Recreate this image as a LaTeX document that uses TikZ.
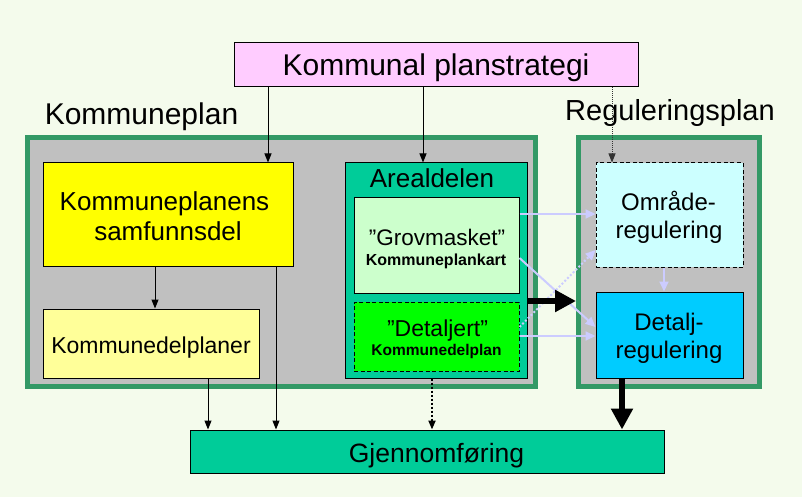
\documentclass[tikz,border=0pt]{standalone}
\usepackage{fontspec}
\setmainfont{Liberation Sans}
\usetikzlibrary{arrows.meta}
\definecolor{bg}{RGB}{244,251,236}
\definecolor{kgreen}{RGB}{51,153,102}
\definecolor{kgray}{RGB}{192,192,192}
\definecolor{pink}{RGB}{255,204,255}
\definecolor{yel}{RGB}{255,255,0}
\definecolor{lyel}{RGB}{255,255,153}
\definecolor{teal}{RGB}{0,204,153}
\definecolor{pgreen}{RGB}{204,255,204}
\definecolor{bgreen}{RGB}{0,255,0}
\definecolor{pcyan}{RGB}{204,255,255}
\definecolor{scyan}{RGB}{0,204,255}
\definecolor{lav}{RGB}{204,204,255}
\newcommand\fsz[1]{\fontsize{#1}{#1}\selectfont}
\begin{document}
\begin{tikzpicture}[x=1pt,y=-1pt,
  box/.style={draw=black,line width=1pt,inner sep=0pt},
  dbox/.style={box,dash pattern=on 4pt off 2.5pt},
  cont/.style={draw=kgreen,line width=5pt,fill=kgray,inner sep=0pt},
  txt/.style={anchor=base,inner sep=0pt},
  thin/.style={line width=1pt,-{Triangle[length=9pt,width=7pt]}},
  lavarr/.style={draw=lav,line width=2pt,-{Triangle[length=10pt,width=9pt]}},
  heavy/.style={line width=5.5pt,-{Triangle[length=21pt,width=21pt]}}]
\fill[bg] (0,0) rectangle (802,497);
\useasboundingbox (0,0) rectangle (802,497);

% containers
\node[cont,minimum width=508pt,minimum height=249pt] (kp) at (281.5,262) {};
\node[cont,minimum width=181pt,minimum height=249pt] (rp) at (669,262) {};

% boxes
\node[box,fill=pink,minimum width=404pt,minimum height=44pt] (strat) at (436,65) {};
\node[box,fill=yel,minimum width=250pt,minimum height=103pt] (samf) at (168,214.5) {};
\node[box,fill=lyel,minimum width=216pt,minimum height=69pt] (kdp) at (151,343.5) {};
\node[box,fill=teal,minimum width=182pt,minimum height=215pt] (areal) at (436,270.5) {};
\node[box,fill=pgreen,minimum width=165pt,minimum height=96pt] (grov) at (436.5,245) {};
\node[dbox,fill=bgreen,minimum width=165pt,minimum height=69pt] (detj) at (436.5,336.5) {};
\node[dbox,fill=pcyan,minimum width=147pt,minimum height=104pt] (omr) at (669.5,215) {};
\node[box,fill=scyan,minimum width=147pt,minimum height=86pt] (detr) at (669.5,335) {};
\node[box,fill=teal,minimum width=474pt,minimum height=43pt] (gjen) at (427,451.5) {};

% texts
\node[txt,font=\fsz{30}] (t-strat) at (436,76) {Kommunal planstrategi};
\node[txt,font=\fsz{30}] (t-kp) at (141.5,125) {Kommuneplan};
\node[txt,font=\fsz{29}] (t-rp) at (670,121) {Reguleringsplan};
\node[txt,font=\fsz{26}] (t-areal) at (432,187) {Arealdelen};
\node[txt,font=\fsz{26}] (t-samf1) at (164.5,210) {Kommuneplanens};
\node[txt,font=\fsz{26}] (t-samf2) at (168,240) {samfunnsdel};
\node[txt,font=\fsz{23}] (t-kdp) at (151,353) {Kommunedelplaner};
\node[txt,font=\fsz{22.5}] (t-grov1) at (437,245) {”Grovmasket”};
\node[txt,font=\bfseries\fsz{16}] (t-grov2) at (436,265) {Kommuneplankart};
\node[txt,font=\fsz{23}] (t-detj1) at (437.5,336) {”Detaljert”};
\node[txt,font=\bfseries\fsz{15.5}] (t-detj2) at (436.5,355) {Kommunedelplan};
\node[txt,font=\fsz{24}] (t-omr1) at (668.5,210) {Område-};
\node[txt,font=\fsz{24}] (t-omr2) at (669,238) {regulering};
\node[txt,font=\fsz{24}] (t-detr1) at (669,330) {Detalj-};
\node[txt,font=\fsz{24}] (t-detr2) at (669,358) {regulering};
\node[txt,font=\fsz{26.5}] (t-gjen) at (436.5,462) {Gjennomføring};

% black connectors
\draw[thin] (268,0 |- strat.south) -- (268,0 |- samf.north);
\draw[thin] (423,0 |- strat.south) -- (423,0 |- areal.north);
\draw[thin,line width=0.8pt,dash pattern=on 1pt off 1pt,draw=black!80] (612,0 |- strat.south) -- (612,0 |- omr.north);
\draw[thin] (155,0 |- samf.south) -- (155,0 |- kdp.north);
\draw[thin] (208,0 |- kdp.south) -- (208,0 |- gjen.north);
\draw[thin] (276,0 |- samf.south) -- (276,0 |- gjen.north);
\draw[thin,line width=2pt,dash pattern=on 2pt off 2pt] (432,0 |- areal.south) -- (432,0 |- gjen.north);

% lavender connectors
\draw[lavarr] (grov.east |- 0,214) -- (omr.west |- 0,214);
\draw[lavarr] (grov.east |- 0,258) -- (detr.west |- 0,327);
\draw[lavarr,dash pattern=on 2pt off 2pt] (detj.east |- 0,327) -- (omr.west |- 0,250);
\draw[lavarr] (detj.east |- 0,336) -- (detr.west |- 0,336);
\draw[lavarr] (664,0 |- omr.south) -- (664,0 |- detr.north);

% heavy connectors
\draw[heavy] (areal.east |- 0,301) -- (rp.west |- 0,301);
\draw[heavy] (622,0 |- detr.south) -- (622,0 |- gjen.north);
\end{tikzpicture}
\end{document}
